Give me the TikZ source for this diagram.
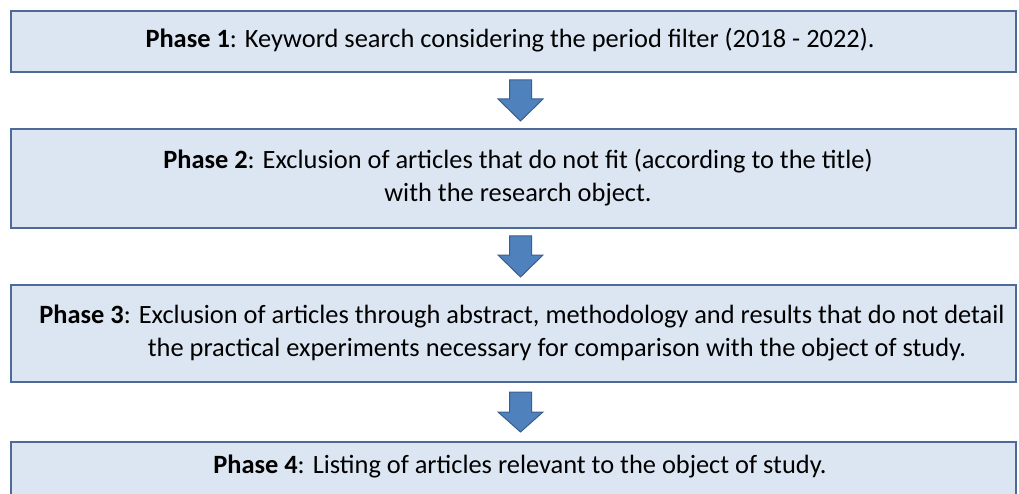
\documentclass[tikz,border=0pt]{standalone}
\usepackage{fontspec}
\setmainfont{Carlito}
\definecolor{fillc}{HTML}{DCE6F2}
\definecolor{bordc}{HTML}{4E6A97}
\definecolor{arrowf}{HTML}{4F81BD}
\definecolor{arrowb}{HTML}{3A5F8E}
\begin{document}
\begin{tikzpicture}[x=1pt,y=-1pt,
  box/.style={draw=bordc, line width=2pt, fill=fillc, minimum width=1005pt, inner sep=0pt, anchor=north west},
  txt/.style={font=\fontsize{26.4}{33}\selectfont, align=center, inner sep=0pt, text=black},
  barrow/.style={draw=arrowb, fill=arrowf, line width=1pt, line join=miter}]
\useasboundingbox (0,0) rectangle (1019,494);
\clip (0,0) rectangle (1019,494);
\node[box, minimum height=61pt] (b1) at (10,10) {};
\node[box, minimum height=99pt] (b2) at (10,128) {};
\node[box, minimum height=97pt] (b3) at (10,284) {};
\node[box, minimum height=80pt] (b4) at (10,441) {};
\node[txt] (t1) at (510,40.5) {\textbf{Phase 1}: Keyword search considering the period filter (2018 - 2022).};
\node[txt] (t2) at (518,177.5) {\textbf{Phase 2}: Exclusion of articles that do not fit (according to the title)\\ with the research object.};
\node[txt] (t3) at (522,333) {\textbf{Phase 3}: Exclusion of articles through abstract, methodology and results that do not detail\\ \hspace*{70pt}the practical experiments necessary for comparison with the object of study.};
\node[txt] (t4) at (520,467) {\textbf{Phase 4}: Listing of articles relevant to the object of study.};
\draw[barrow] (509.5,80) -- (531.5,80) -- (531.5,99) -- (543,99) -- (520.5,121) -- (498,99) -- (509.5,99) -- cycle;
\draw[barrow] (509.5,236) -- (531.5,236) -- (531.5,255) -- (543,255) -- (520.5,277) -- (498,255) -- (509.5,255) -- cycle;
\draw[barrow] (509.5,392) -- (531.5,392) -- (531.5,412) -- (543,412) -- (520.5,432) -- (498,412) -- (509.5,412) -- cycle;
\end{tikzpicture}
\end{document}
